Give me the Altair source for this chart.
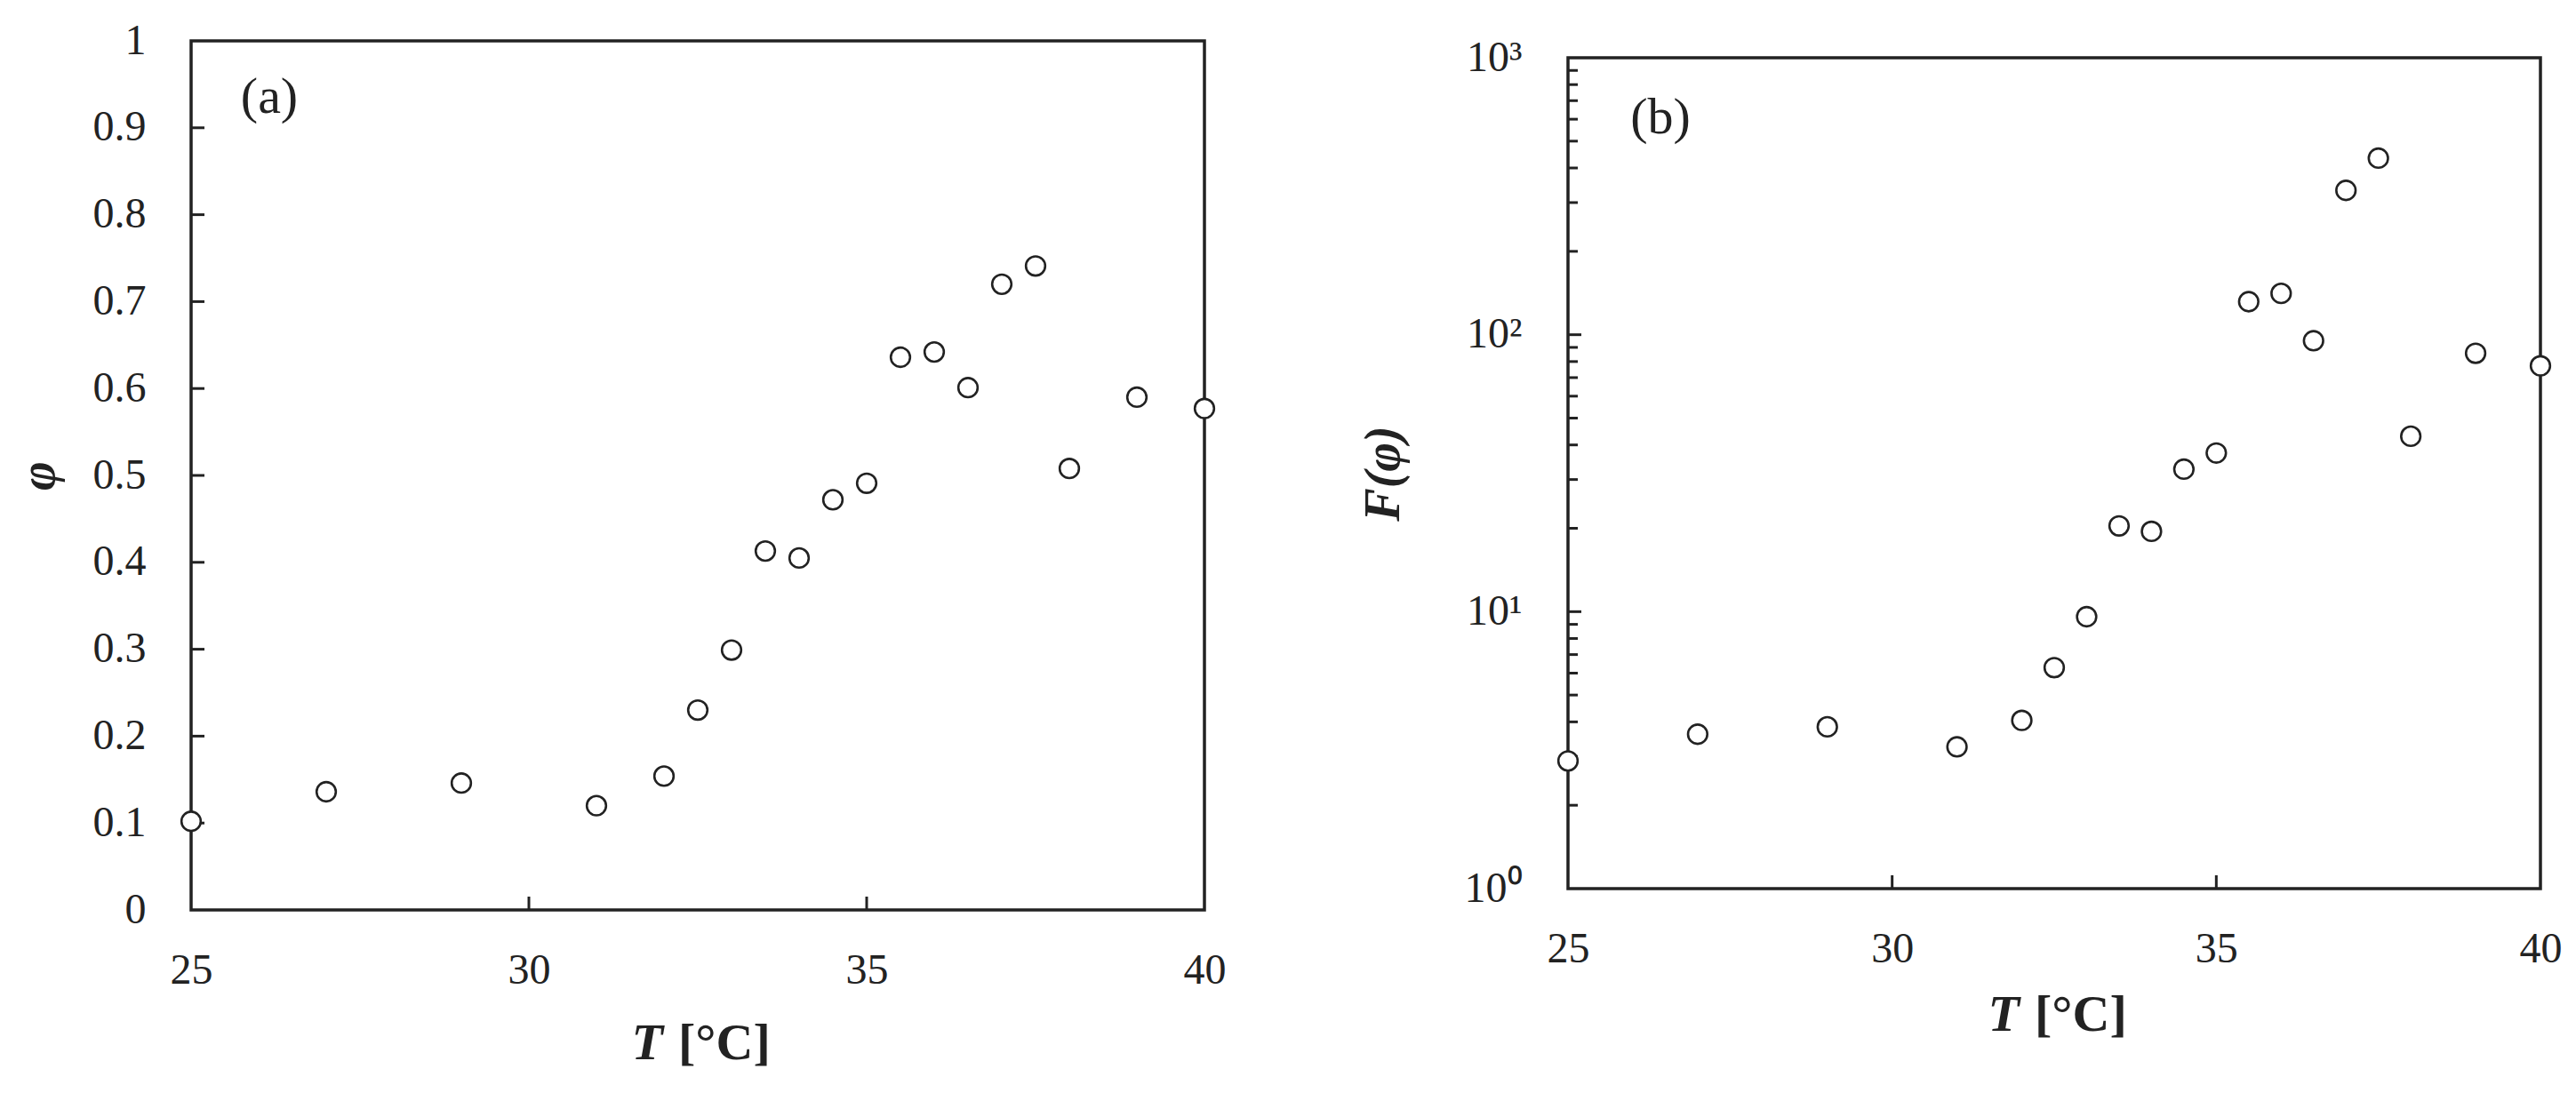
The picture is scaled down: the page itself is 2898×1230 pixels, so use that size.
import altair as alt
import pandas as pd

# ---- data ----
T = [25, 27, 29, 31, 32, 32.5, 33, 33.5, 34, 34.5, 35, 35.5, 36, 36.5, 37, 37.5, 38, 39, 40]
phi = [0.102, 0.136, 0.146, 0.12, 0.154, 0.23, 0.299, 0.413, 0.405, 0.472, 0.491,
       0.636, 0.642, 0.601, 0.72, 0.741, 0.508, 0.59, 0.577]
F_phi = [2.89, 3.61, 3.84, 3.25, 4.05, 6.28, 9.59, 20.4, 19.5, 32.7, 37.4,
         131.6, 141, 95.1, 332, 434, 43.0, 85.7, 77.2]

x_labels = [25, 30, 35, 40]
x_inner_ticks = [30, 35]
phi_ticks = [0, 0.1, 0.2, 0.3, 0.4, 0.5, 0.6, 0.7, 0.8, 0.9, 1]
log_major = [1, 10, 100, 1000]
log_minor = [2, 3, 4, 5, 6, 7, 8, 9, 20, 30, 40, 50, 60, 70, 80, 90,
             200, 300, 400, 500, 600, 700, 800, 900]
panel_labels = ["(a)", "(b)"]
x_title_parts = ["T", "[°C]"]
y_title_a = "φ"
y_title_b = "F(φ)"

FONT = "Liberation Serif"
INK = "#222222"
W1, H1 = 1140, 978
W2, H2 = 1094, 935
TICK = 15
MINOR = 11

df = pd.DataFrame({"T": T, "phi": phi, "F": F_phi})

xscale = alt.Scale(domain=[25, 40], nice=False, zero=False)

common_axis = dict(ticks=False, domain=False, grid=False, labelFont=FONT, titleFont=FONT,
                   labelColor=INK, titleColor=INK, labelFontSize=48, labelFlush=False,
                   titleFontWeight="bold")


def x_enc():
    return alt.X(
        "T:Q", scale=xscale, title="",
        axis=alt.Axis(values=x_labels, format="d", labelPadding=44, **common_axis),
    )


def yA_enc():
    return alt.Y(
        "phi:Q", scale=alt.Scale(domain=[0, 1], nice=False), title=y_title_a,
        axis=alt.Axis(values=phi_ticks, format=".1~f", labelPadding=51, titleFontSize=56,
                      titleFontStyle="italic", titlePadding=32, **common_axis),
    )


def yB_enc():
    return alt.Y(
        "F:Q", scale=alt.Scale(type="log", domain=[1, 1000], nice=False), title=y_title_b,
        axis=alt.Axis(values=log_major,
                      labelExpr="'10' + (datum.value == 1 ? '⁰' : datum.value == 10 ? '¹' : datum.value == 100 ? '²' : '³')",
                      labelPadding=52, titleFontSize=56, titleFontStyle="italic",
                      titlePadding=62, **common_axis),
    )


def x_title_marks(W, H, dy):
    """Axis title 'T [°C]' with an italic T, placed below the tick labels."""
    t1 = alt.Chart(pd.DataFrame({"l": [x_title_parts[0]]})).mark_text(
        font=FONT, fontSize=58, fontWeight="bold", fontStyle="italic", color=INK,
        align="right", baseline="middle").encode(
        x=alt.value(W / 2 - 39), y=alt.value(H + dy), text="l:N")
    t2 = alt.Chart(pd.DataFrame({"l": [x_title_parts[1]]})).mark_text(
        font=FONT, fontSize=58, fontWeight="bold", color=INK,
        align="left", baseline="middle").encode(
        x=alt.value(W / 2 - 22), y=alt.value(H + dy), text="l:N")
    return [t1, t2]


pt_style = dict(shape="circle", fill="white", stroke=INK, strokeWidth=2.6,
                size=470, opacity=1, fillOpacity=1)

# ---------- panel (a) ----------
a_yticks = alt.Chart(pd.DataFrame({"phi": phi_ticks[1:-1]})).mark_rule(
    color=INK, strokeWidth=3).encode(y=yA_enc(), x=alt.value(0), x2=alt.value(TICK))
a_xticks = alt.Chart(pd.DataFrame({"T": x_inner_ticks})).mark_rule(
    color=INK, strokeWidth=3).encode(x=x_enc(), y=alt.value(H1), y2=alt.value(H1 - TICK))
a_pts = alt.Chart(df).mark_point(**pt_style).encode(x=x_enc(), y=yA_enc())
a_lab = alt.Chart(pd.DataFrame({"l": [panel_labels[0]]})).mark_text(
    font=FONT, fontSize=58, color=INK, align="center", baseline="middle").encode(
    x=alt.value(88), y=alt.value(64), text="l:N")
panel_a = alt.layer(a_yticks, a_xticks, a_pts, a_lab,
                    *x_title_marks(W1, H1, 151)).properties(width=W1, height=H1)

# ---------- panel (b) ----------
b_major = alt.Chart(pd.DataFrame({"F": log_major[1:-1]})).mark_rule(
    color=INK, strokeWidth=3).encode(y=yB_enc(), x=alt.value(0), x2=alt.value(TICK))
b_minor = alt.Chart(pd.DataFrame({"F": log_minor})).mark_rule(
    color=INK, strokeWidth=3).encode(y=yB_enc(), x=alt.value(0), x2=alt.value(MINOR))
b_xticks = alt.Chart(pd.DataFrame({"T": x_inner_ticks})).mark_rule(
    color=INK, strokeWidth=3).encode(x=x_enc(), y=alt.value(H2), y2=alt.value(H2 - TICK))
b_pts = alt.Chart(df).mark_point(**pt_style).encode(x=x_enc(), y=yB_enc())
b_lab = alt.Chart(pd.DataFrame({"l": [panel_labels[1]]})).mark_text(
    font=FONT, fontSize=58, color=INK, align="center", baseline="middle").encode(
    x=alt.value(104), y=alt.value(68), text="l:N")
panel_b = alt.layer(b_major, b_minor, b_xticks, b_pts, b_lab,
                    *x_title_marks(W2, H2, 143)).properties(width=W2, height=H2)

# invisible spacer that lowers panel (b) slightly, as in the reference
spacer = alt.Chart(pd.DataFrame({"s": [0]})).mark_point(opacity=0, size=1).encode(
    x=alt.value(0), y=alt.value(0)
).properties(width=W2, height=1, view=alt.ViewBackground(strokeOpacity=0, strokeWidth=0))

right_col = alt.vconcat(spacer, panel_b, spacing=-8)

chart = alt.hconcat(panel_a, right_col, spacing=145).properties(
    padding={"left": 5, "top": 12, "right": 5, "bottom": 5}
).configure_view(
    stroke=INK, strokeWidth=3.5
)

chart.save("out.html", embed_options={"renderer": "svg", "actions": False})
